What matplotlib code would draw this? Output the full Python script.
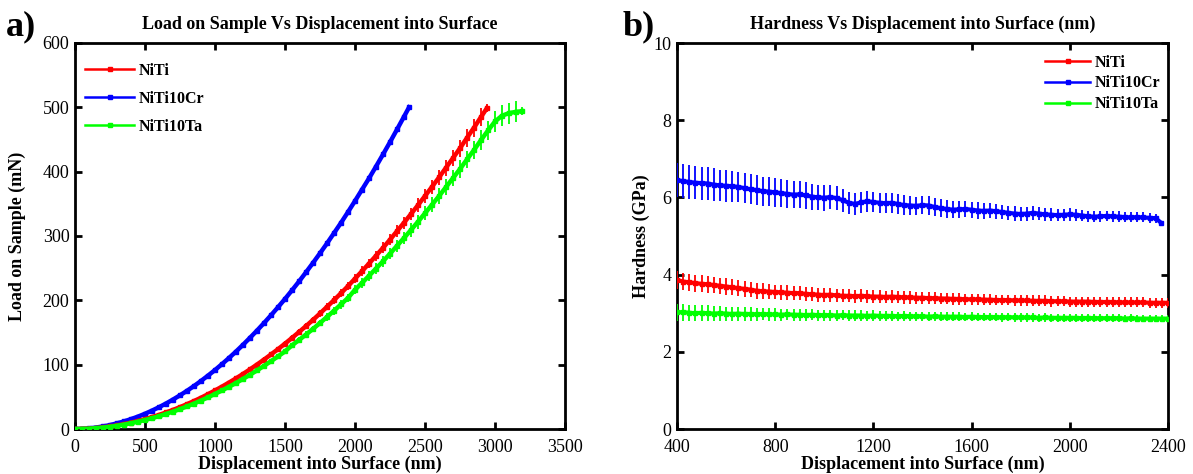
import matplotlib
matplotlib.use("Agg")
import matplotlib.pyplot as plt
from matplotlib.lines import Line2D

plt.rcParams['font.family'] = ['Liberation Serif', 'DejaVu Serif']

# ---------------- Panel a) : Load vs displacement ----------------
disp_niti = [0, 50, 100, 150, 200, 250, 300, 350, 400, 450,
             500, 550, 600, 650, 700, 750, 800, 850, 900, 950,
             1000, 1050, 1100, 1150, 1200, 1250, 1300, 1350, 1400, 1450,
             1500, 1550, 1600, 1650, 1700, 1750, 1800, 1850, 1900, 1950,
             2000, 2050, 2100, 2150, 2200, 2250, 2300, 2350, 2400, 2450,
             2500, 2550, 2600, 2650, 2700, 2750, 2800, 2850, 2900, 2943]
load_niti = [0, 0.2, 0.6, 1.4, 2.5, 3.9, 5.6, 7.6, 9.9, 12.5,
             15.3, 18.5, 21.9, 25.7, 29.7, 34.0, 38.6, 43.5, 48.6, 54.1,
             59.9, 65.9, 72.2, 78.7, 85.6, 92.7, 100.2, 107.9, 115.9, 124.1,
             132.7, 141.6, 150.7, 160.0, 169.6, 179.6, 189.9, 200.3, 211.1, 222.1,
             233.7, 245.3, 257.2, 269.3, 281.6, 294.3, 307.5, 320.7, 334.2, 348.0,
             362.2, 376.5, 391.0, 406.2, 421.2, 436.5, 452.6, 468.4, 485.0, 499.0]
err_niti = [0, 0, 0, 0, 0.2, 0.2, 0.2, 0.3, 0.3, 0.5,
            0.5, 0.6, 0.6, 0.8, 0.9, 1.1, 1.2, 1.4, 1.5, 1.7,
            1.8, 2.0, 2.1, 2.4, 2.6, 2.9, 3.0, 3.3, 3.5, 3.8,
            4.1, 4.2, 4.5, 4.8, 5.1, 5.4, 5.7, 6.0, 6.3, 6.6,
            7.1, 7.4, 7.7, 8.1, 8.4, 8.9, 9.3, 9.6, 10.1, 10.5,
            10.8, 11.3, 11.7, 12.2, 12.6, 13.1, 13.7, 14.1, 14.6, 6.0]

disp_cr = [0, 50, 100, 150, 200, 250, 300, 350, 400, 450,
           500, 550, 600, 650, 700, 750, 800, 850, 900, 950,
           1000, 1050, 1100, 1150, 1200, 1250, 1300, 1350, 1400, 1450,
           1500, 1550, 1600, 1650, 1700, 1750, 1800, 1850, 1900, 1950,
           2000, 2050, 2100, 2150, 2200, 2250, 2300, 2350, 2386]
load_cr = [0, 0.3, 1.0, 2.3, 4.0, 6.1, 8.8, 11.8, 15.4, 19.3,
           23.7, 28.6, 33.9, 39.6, 45.8, 52.4, 59.4, 66.8, 74.7, 83.0,
           91.7, 100.9, 110.4, 120.4, 130.9, 141.8, 153.0, 164.7, 176.8, 189.3,
           202.2, 215.6, 229.3, 243.6, 258.2, 273.2, 288.5, 304.5, 320.5, 337.3,
           354.5, 372.1, 389.6, 408.0, 426.8, 445.9, 465.6, 485.5, 500.0]

disp_ta = [0, 50, 100, 150, 200, 250, 300, 350, 400, 450,
           500, 550, 600, 650, 700, 750, 800, 850, 900, 950,
           1000, 1050, 1100, 1150, 1200, 1250, 1300, 1350, 1400, 1450,
           1500, 1550, 1600, 1650, 1700, 1750, 1800, 1850, 1900, 1950,
           2000, 2050, 2100, 2150, 2200, 2250, 2300, 2350, 2400, 2450,
           2500, 2550, 2600, 2650, 2700, 2750, 2800, 2850, 2900, 2950,
           3000, 3050, 3100, 3150, 3193]
load_ta = [0, 0.2, 0.5, 1.3, 2.3, 3.5, 5.1, 6.9, 9.0, 11.4,
           13.9, 16.8, 19.9, 23.4, 27.0, 30.9, 35.1, 39.5, 44.2, 49.2,
           54.5, 59.9, 65.6, 71.5, 77.8, 84.3, 91.1, 98.1, 105.4, 112.8,
           120.6, 130.0, 138.3, 146.8, 155.6, 164.8, 174.2, 183.8, 193.7, 203.8,
           216.4, 227.1, 238.1, 249.4, 260.7, 272.5, 284.7, 296.9, 309.4, 322.2,
           335.4, 348.6, 362.0, 376.1, 390.0, 404.2, 419.1, 433.7, 449.1, 464.0,
           478.0, 487.0, 491.0, 493.0, 494.0]
err_ta = [0, 0, 0, 0, 0.2, 0.2, 0.2, 0.3, 0.3, 0.5,
          0.5, 0.6, 0.6, 0.8, 0.9, 1.1, 1.2, 1.4, 1.5, 1.7,
          1.8, 2.0, 2.1, 2.4, 2.6, 2.9, 3.0, 3.3, 3.5, 3.8,
          4.1, 4.4, 4.5, 4.8, 5.1, 5.4, 5.7, 6.0, 6.5, 6.8,
          7.2, 7.5, 7.8, 8.3, 8.6, 9.0, 9.5, 9.8, 10.2, 10.7,
          11.1, 11.6, 12.0, 12.5, 12.9, 13.4, 13.8, 14.3, 14.9, 15.3,
          15.8, 16.1, 16.2, 16.2, 6.0]

# ---------------- Panel b) : Hardness vs displacement ----------------
disp_h = [400, 425, 450, 475, 500, 525, 550, 575, 600, 625,
          650, 675, 700, 725, 750, 775, 800, 825, 850, 875,
          900, 925, 950, 975, 1000, 1025, 1050, 1075, 1100, 1125,
          1150, 1175, 1200, 1225, 1250, 1275, 1300, 1325, 1350, 1375,
          1400, 1425, 1450, 1475, 1500, 1525, 1550, 1575, 1600, 1625,
          1650, 1675, 1700, 1725, 1750, 1775, 1800, 1825, 1850, 1875,
          1900, 1925, 1950, 1975, 2000, 2025, 2050, 2075, 2100, 2125,
          2150, 2175, 2200, 2225, 2250, 2275, 2300, 2325, 2350, 2375, 2400]
hard_niti = [3.86, 3.82, 3.80, 3.78, 3.76, 3.75, 3.73, 3.71, 3.69, 3.67,
             3.65, 3.63, 3.61, 3.58, 3.57, 3.56, 3.55, 3.54, 3.53, 3.52,
             3.52, 3.50, 3.49, 3.48, 3.47, 3.48, 3.46, 3.45, 3.45, 3.44,
             3.45, 3.44, 3.43, 3.43, 3.42, 3.43, 3.42, 3.41, 3.41, 3.40,
             3.40, 3.39, 3.39, 3.38, 3.38, 3.37, 3.37, 3.36, 3.36, 3.36,
             3.35, 3.35, 3.34, 3.34, 3.34, 3.33, 3.33, 3.33, 3.32, 3.32,
             3.32, 3.31, 3.31, 3.31, 3.30, 3.30, 3.30, 3.30, 3.29, 3.29,
             3.29, 3.29, 3.28, 3.28, 3.28, 3.28, 3.28, 3.27, 3.27, 3.27, 3.27]
herr_niti = [0.23, 0.23, 0.22, 0.22, 0.22, 0.22, 0.21, 0.21, 0.21, 0.21,
             0.20, 0.20, 0.20, 0.20, 0.20, 0.19, 0.19, 0.19, 0.19, 0.19,
             0.18, 0.18, 0.18, 0.18, 0.18, 0.18, 0.17, 0.17, 0.17, 0.17,
             0.17, 0.17, 0.17, 0.16, 0.16, 0.16, 0.16, 0.16, 0.16, 0.16,
             0.16, 0.15, 0.15, 0.15, 0.15, 0.15, 0.15, 0.15, 0.15, 0.15,
             0.14, 0.14, 0.14, 0.14, 0.14, 0.14, 0.14, 0.14, 0.14, 0.14,
             0.14, 0.14, 0.13, 0.13, 0.13, 0.13, 0.13, 0.13, 0.13, 0.13,
             0.13, 0.13, 0.13, 0.13, 0.13, 0.13, 0.13, 0.13, 0.13, 0.13, 0.13]

disp_h_cr = [400, 425, 450, 475, 500, 525, 550, 575, 600, 625,
             650, 675, 700, 725, 750, 775, 800, 825, 850, 875,
             900, 925, 950, 975, 1000, 1025, 1050, 1075, 1100, 1125,
             1150, 1175, 1200, 1225, 1250, 1275, 1300, 1325, 1350, 1375,
             1400, 1425, 1450, 1475, 1500, 1525, 1550, 1575, 1600, 1625,
             1650, 1675, 1700, 1725, 1750, 1775, 1800, 1825, 1850, 1875,
             1900, 1925, 1950, 1975, 2000, 2025, 2050, 2075, 2100, 2125,
             2150, 2175, 2200, 2225, 2250, 2275, 2300, 2325, 2350, 2372]
hard_cr = [6.45, 6.42, 6.40, 6.38, 6.37, 6.36, 6.33, 6.31, 6.30, 6.29,
           6.27, 6.24, 6.21, 6.19, 6.16, 6.15, 6.13, 6.11, 6.09, 6.07,
           6.08, 6.05, 6.02, 6.00, 5.99, 6.01, 5.98, 5.93, 5.86, 5.83,
           5.87, 5.90, 5.88, 5.86, 5.85, 5.86, 5.83, 5.80, 5.79, 5.78,
           5.80, 5.79, 5.75, 5.72, 5.70, 5.68, 5.69, 5.70, 5.68, 5.66,
           5.65, 5.66, 5.64, 5.62, 5.60, 5.58, 5.57, 5.58, 5.60, 5.58,
           5.56, 5.55, 5.54, 5.55, 5.56, 5.55, 5.53, 5.51, 5.50, 5.51,
           5.52, 5.51, 5.50, 5.49, 5.48, 5.49, 5.48, 5.47, 5.46, 5.34]
herr_cr = [0.45, 0.44, 0.44, 0.43, 0.43, 0.42, 0.42, 0.41, 0.41, 0.40,
           0.40, 0.39, 0.39, 0.38, 0.38, 0.37, 0.37, 0.36, 0.36, 0.35,
           0.35, 0.34, 0.34, 0.33, 0.33, 0.32, 0.31, 0.30, 0.29, 0.28,
           0.28, 0.27, 0.27, 0.26, 0.26, 0.26, 0.25, 0.25, 0.25, 0.24,
           0.24, 0.24, 0.23, 0.23, 0.23, 0.22, 0.22, 0.21, 0.21, 0.21,
           0.20, 0.20, 0.20, 0.19, 0.19, 0.19, 0.18, 0.18, 0.18, 0.17,
           0.17, 0.17, 0.16, 0.16, 0.16, 0.15, 0.15, 0.15, 0.15, 0.14,
           0.14, 0.14, 0.14, 0.13, 0.13, 0.13, 0.13, 0.13, 0.12, 0.03]

hard_ta = [3.02, 3.03, 3.01, 3.00, 3.01, 3.00, 2.99, 3.00, 2.99, 2.98,
           2.99, 2.98, 2.98, 2.97, 2.98, 2.97, 2.97, 2.96, 2.97, 2.96,
           2.96, 2.95, 2.96, 2.95, 2.95, 2.95, 2.94, 2.95, 2.94, 2.94,
           2.94, 2.93, 2.94, 2.93, 2.93, 2.93, 2.92, 2.93, 2.92, 2.92,
           2.92, 2.91, 2.92, 2.91, 2.91, 2.91, 2.91, 2.90, 2.91, 2.90,
           2.90, 2.90, 2.90, 2.89, 2.90, 2.89, 2.89, 2.89, 2.89, 2.88,
           2.89, 2.88, 2.88, 2.88, 2.88, 2.88, 2.87, 2.88, 2.87, 2.87,
           2.87, 2.87, 2.87, 2.86, 2.87, 2.86, 2.86, 2.86, 2.86, 2.86, 2.86]
herr_ta = [0.22, 0.22, 0.21, 0.21, 0.20, 0.20, 0.19, 0.19, 0.18, 0.18,
           0.18, 0.17, 0.17, 0.17, 0.16, 0.16, 0.16, 0.16, 0.15, 0.15,
           0.15, 0.15, 0.14, 0.14, 0.14, 0.14, 0.14, 0.13, 0.13, 0.13,
           0.13, 0.13, 0.13, 0.13, 0.12, 0.12, 0.12, 0.12, 0.12, 0.12,
           0.12, 0.12, 0.12, 0.12, 0.12, 0.12, 0.11, 0.11, 0.11, 0.11,
           0.11, 0.11, 0.11, 0.11, 0.11, 0.11, 0.11, 0.11, 0.11, 0.11,
           0.11, 0.10, 0.10, 0.10, 0.10, 0.10, 0.10, 0.10, 0.10, 0.10,
           0.10, 0.10, 0.10, 0.10, 0.10, 0.10, 0.10, 0.10, 0.10, 0.10, 0.10]

series_names = ['NiTi', 'NiTi10Cr', 'NiTi10Ta']
series_colors = ['#ff0000', '#0000ff', '#00ff00']

W, H = 1193, 474
fig = plt.figure(figsize=(W / 100, H / 100), dpi=100)
ax1 = fig.add_axes([75 / W, 1 - 429 / H, 490 / W, 386 / H])
ax2 = fig.add_axes([677 / W, 1 - 429 / H, 491 / W, 386 / H])

# ---- panel a
ax1.errorbar(disp_niti, load_niti, yerr=err_niti, fmt='-s', color=series_colors[0],
             lw=3.2, ms=3.5, elinewidth=1.3, capsize=0, zorder=3)
ax1.plot(disp_cr, load_cr, '-s', color=series_colors[1], lw=3.2, ms=3.5, zorder=3)
ax1.errorbar(disp_ta, load_ta, yerr=err_ta, fmt='-s', color=series_colors[2],
             lw=3.2, ms=3.5, elinewidth=1.3, capsize=0, zorder=3)
ax1.set_xlim(0, 3500)
ax1.set_ylim(0, 600)
ax1.set_xticks([0, 500, 1000, 1500, 2000, 2500, 3000, 3500])
ax1.set_yticks([0, 100, 200, 300, 400, 500, 600])
ax1.set_title('Load on Sample Vs Displacement into Surface', fontsize=13,
              fontweight='bold', pad=10)
ax1.set_xlabel('Displacement into Surface (nm)', fontsize=13, fontweight='bold')
ax1.set_ylabel('Load on Sample (mN)', fontsize=13, fontweight='bold')
ax1.xaxis.set_label_coords(0.5, -0.07)
ax1.yaxis.set_label_coords(-0.1, 0.5)

# ---- panel b
ax2.errorbar(disp_h, hard_niti, yerr=herr_niti, fmt='-s', color=series_colors[0],
             lw=3, ms=3.5, elinewidth=1.3, capsize=0, zorder=3)
ax2.errorbar(disp_h_cr, hard_cr, yerr=herr_cr, fmt='-s', color=series_colors[1],
             lw=3, ms=3.5, elinewidth=1.3, capsize=0, zorder=3)
ax2.errorbar(disp_h, hard_ta, yerr=herr_ta, fmt='-s', color=series_colors[2],
             lw=3, ms=3.5, elinewidth=1.3, capsize=0, zorder=3)
ax2.set_xlim(400, 2400)
ax2.set_ylim(0, 10)
ax2.set_xticks([400, 800, 1200, 1600, 2000, 2400])
ax2.set_yticks([0, 2, 4, 6, 8, 10])
ax2.set_title('Hardness Vs Displacement into Surface (nm)', fontsize=13,
              fontweight='bold', pad=10)
ax2.set_xlabel('Displacement into Surface (nm)', fontsize=13, fontweight='bold')
ax2.set_ylabel('Hardness (GPa)', fontsize=13, fontweight='bold')
ax2.xaxis.set_label_coords(0.5, -0.07)
ax2.yaxis.set_label_coords(-0.055, 0.5)

for ax in (ax1, ax2):
    for sp in ax.spines.values():
        sp.set_linewidth(2.0)
    ax.tick_params(direction='in', top=True, right=True, length=5, width=2,
                   labelsize=13)
    ax.tick_params(axis='x', pad=7)
    ax.tick_params(axis='y', pad=4)

handles = [Line2D([], [], color=c, lw=1.8, marker='s', ms=3) for c in series_colors]
leg1 = ax1.legend(handles, series_names, loc='upper left', bbox_to_anchor=(0.02, 0.948),
                  frameon=False, borderaxespad=0, borderpad=0, handlelength=3.1,
                  handletextpad=0.3, labelspacing=0.75, numpoints=1,
                  prop={'weight': 'bold', 'size': 11.5})
leg2 = ax2.legend(handles, series_names, loc='upper right', bbox_to_anchor=(0.985, 0.97),
                  frameon=False, borderaxespad=0, borderpad=0, handlelength=2.8,
                  handletextpad=0.3, labelspacing=0.3, numpoints=1,
                  prop={'weight': 'bold', 'size': 11.5})

fig.text(6 / W, 1 - 27 / H, 'a)', fontsize=26, fontweight='bold', va='center', ha='left')
fig.text(623 / W, 1 - 27 / H, 'b)', fontsize=26, fontweight='bold', va='center', ha='left')

fig.savefig('out.png', dpi=100)
